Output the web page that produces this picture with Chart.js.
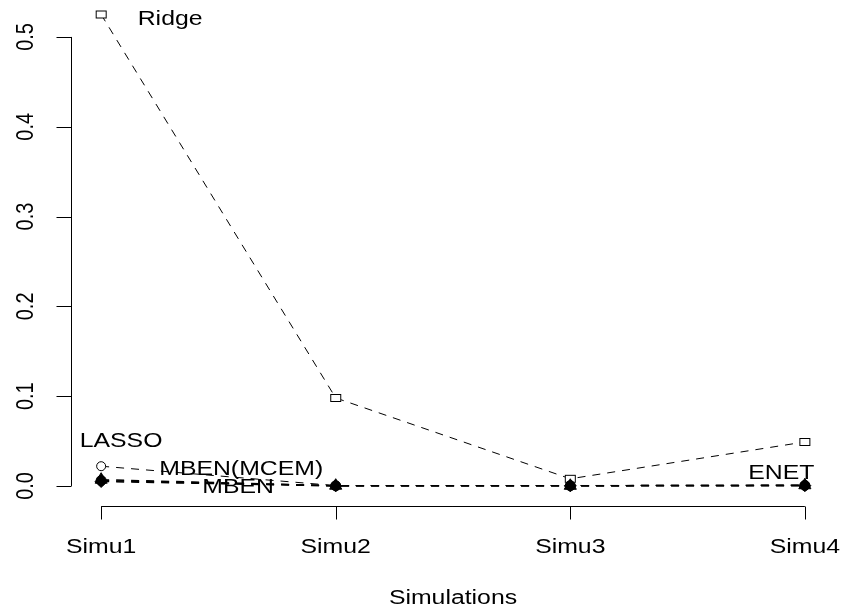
<!DOCTYPE html>
<html>
<head>
<meta charset="utf-8">
<script src="https://cdn.jsdelivr.net/npm/chart.js@4"></script>
<style>
  html, body { margin: 0; padding: 0; background: #fff; }
  #wrap { width: 848px; height: 613px; }
</style>
</head>
<body>
<div id="wrap"><canvas id="chart" width="848" height="613"></canvas></div>
<script>
// data
const categories = ["Simu1", "Simu2", "Simu3", "Simu4"];
const yTicks = [0, 0.1, 0.2, 0.3, 0.4, 0.5];
const ridge = [0.525, 0.098, 0.008, 0.049];
const lasso = [0.022, 0.0004, 0.0005, 0.0009];
const mbenMcem = [0.007, 0.0003, 0.0002, 0.0008];
const mben = [0.005, 0.0001, 0.0001, 0.0003];
const enet = [0.006, 0.0002, 0.0003, 0.0006];

// text labels next to the lines (data coords)
const seriesLabels = [
  { text: "Ridge", x: 1.294, y: 0.519 },
  { text: "LASSO", x: 1.085, y: 0.05 },
  { text: "MBEN(MCEM)", x: 1.597, y: 0.018 },
  { text: "MBEN", x: 1.584, y: -0.002 },
  { text: "ENET", x: 3.9, y: 0.014 },
];
const xTitle = "Simulations";

const FONT = "20px 'Liberation Sans', Arial, sans-serif";
const SX = 1.24; // text in the picture is stretched sideways

// open square marker, a bit wider than tall
function squareMarker() {
  const c = document.createElement("canvas");
  c.width = 13;
  c.height = 10;
  const g = c.getContext("2d");
  g.fillStyle = "#fff";
  g.fillRect(1, 1, 11, 8);
  g.strokeStyle = "#000";
  g.lineWidth = 1;
  g.strokeRect(1.5, 1.5, 10, 7);
  return c;
}

const toXY = (vals) => vals.map((v, i) => ({ x: i + 1, y: v }));

function lineSet(label, vals, style, fill, radius, width, order) {
  return {
    label,
    data: toXY(vals),
    order,
    borderColor: "#000",
    borderWidth: width,
    borderDash: [8, 7],
    pointStyle: style,
    pointRadius: radius,
    pointBackgroundColor: fill,
    pointBorderColor: "#000",
    pointBorderWidth: 1,
    tension: 0,
    fill: false,
    clip: false,
  };
}

const rAxes = {
  id: "rAxes",
  afterDraw(chart) {
    const ctx = chart.ctx;
    const xs = chart.scales.x;
    const ys = chart.scales.y;
    ctx.save();
    ctx.strokeStyle = "#000";
    ctx.fillStyle = "#000";
    ctx.lineWidth = 1;
    ctx.font = FONT;

    // y axis
    const yAx = 71.5;
    ctx.beginPath();
    ctx.moveTo(yAx, ys.getPixelForValue(yTicks[0]));
    ctx.lineTo(yAx, ys.getPixelForValue(yTicks[yTicks.length - 1]));
    yTicks.forEach((t) => {
      const py = Math.round(ys.getPixelForValue(t)) + 0.5;
      ctx.moveTo(yAx, py);
      ctx.lineTo(yAx - 15, py);
    });
    ctx.stroke();
    ctx.textAlign = "center";
    ctx.textBaseline = "alphabetic";
    yTicks.forEach((t) => {
      const py = ys.getPixelForValue(t);
      ctx.save();
      ctx.translate(33, py);
      ctx.scale(SX, 1);
      ctx.rotate(-Math.PI / 2);
      ctx.fillText(t.toFixed(1), 0, 0);
      ctx.restore();
    });

    // x axis
    const xAx = 506.5;
    ctx.beginPath();
    ctx.moveTo(xs.getPixelForValue(1), xAx);
    ctx.lineTo(xs.getPixelForValue(categories.length), xAx);
    categories.forEach((c, i) => {
      const px = Math.round(xs.getPixelForValue(i + 1)) + 0.5;
      ctx.moveTo(px, xAx);
      ctx.lineTo(px, xAx + 13);
    });
    ctx.stroke();
    const drawText = (txt, x, y, base) => {
      ctx.save();
      ctx.textBaseline = base;
      ctx.translate(x, y);
      ctx.scale(SX, 1);
      ctx.fillText(txt, 0, 0);
      ctx.restore();
    };
    categories.forEach((c, i) => {
      drawText(c, xs.getPixelForValue(i + 1), 553, "alphabetic");
    });
    drawText(xTitle, (chart.chartArea.left + chart.chartArea.right) / 2, 604, "alphabetic");

    // series labels
    seriesLabels.forEach((l) => {
      drawText(l.text, xs.getPixelForValue(l.x), ys.getPixelForValue(l.y), "middle");
    });
    ctx.restore();
  },
};

new Chart(document.getElementById("chart"), {
  type: "line",
  data: {
    datasets: [
      lineSet("Ridge", ridge, squareMarker(), "#fff", 5, 1, 3),
      lineSet("LASSO", lasso, "circle", "#fff", 4.5, 1, 2),
      lineSet("MBEN(MCEM)", mbenMcem, "triangle", "#000", 7, 1.5, 0),
      lineSet("MBEN", mben, "rectRot", "#000", 6, 1.5, 1),
      lineSet("ENET", enet, "circle", "#000", 5, 1.5, 0),
    ],
  },
  options: {
    responsive: false,
    animation: false,
    layout: { padding: { left: 73, right: 15, top: 10, bottom: 108 } },
    plugins: { legend: { display: false }, tooltip: { enabled: false } },
    scales: {
      x: { type: "linear", display: false, min: 0.88, max: 4.12 },
      y: { type: "linear", display: false, min: -0.0212, max: 0.53 },
    },
  },
  plugins: [rAxes],
});
</script>
</body>
</html>
